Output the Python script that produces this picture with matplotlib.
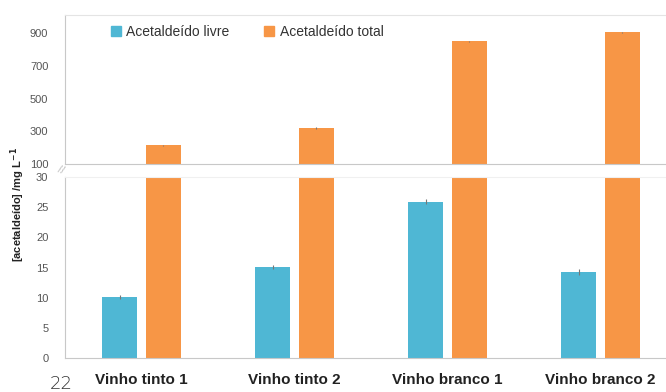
import numpy as np
import matplotlib
matplotlib.use("Agg")
import matplotlib.pyplot as plt
from matplotlib.patches import Patch

# Data
categories = ["Vinho tinto 1", "Vinho tinto 2", "Vinho branco 1", "Vinho branco 2"]
livre = [10.1, 15.1, 25.9, 14.3]
livre_err = [0.3, 0.3, 0.4, 0.5]
total = [215, 320, 850, 905]
total_err = [3, 4, 4, 3]

upper_ticks = [100, 300, 500, 700, 900]
lower_ticks = [0, 5, 10, 15, 20, 25, 30]

c_livre = "#4FB7D4"
c_total = "#F79646"
grid_c = "#C8C8C8"
tick_c = "#555555"

plt.rcParams["font.family"] = ["Liberation Sans", "DejaVu Sans"]

fig = plt.figure(figsize=(6.66, 3.92), dpi=100)
W, H = 666, 392
x0, x1 = 65, 677
ax_top = fig.add_axes([x0 / W, 1 - 164 / H, (x1 - x0) / W, (164 - 15) / H])
ax_bot = fig.add_axes([x0 / W, 1 - 358 / H, (x1 - x0) / W, (358 - 177) / H])

x = np.arange(len(categories))
w = 0.23
off = 0.142

for ax in (ax_top, ax_bot):
    ax.bar(x - off, livre, w, color=c_livre, yerr=livre_err,
           error_kw=dict(ecolor="#777777", elinewidth=0.8, capsize=0))
    ax.bar(x + off, total, w, color=c_total, yerr=total_err,
           error_kw=dict(ecolor="#777777", elinewidth=0.8, capsize=0))
    ax.set_xlim(-0.5, 3.5)
    ax.spines["right"].set_visible(False)
    ax.spines["left"].set_color(grid_c)
    ax.spines["bottom"].set_color(grid_c)
    ax.spines["top"].set_color("#E4E4E4")
    ax.tick_params(axis="y", length=0, labelsize=8, labelcolor=tick_c, pad=12)
    ax.tick_params(axis="x", length=0)

ax_top.set_ylim(100, 1010)
ax_top.set_yticks(upper_ticks)
ax_top.set_xticks([])

ax_bot.set_ylim(0, 30)
ax_bot.set_yticks(lower_ticks)
ax_bot.set_xticks(x)
ax_bot.set_xticklabels(categories, fontsize=11, fontweight="bold", color="#222222")
ax_bot.tick_params(axis="x", pad=11)
ax_bot.spines["top"].set_color("#F0F0F0")

# break mark
fig.text(61 / W, 1 - 170 / H, "//", fontsize=8, color="#BBBBBB",
         ha="center", va="center", rotation=-20)

fig.text(18 / W, 1 - 205 / H, "[acetaldeído] /mg L$^{\\mathbf{-1}}$", rotation=90,
         fontsize=8, fontweight="bold", ha="center", va="center", color="#222222")

handles = [Patch(color=c_livre), Patch(color=c_total)]
ax_top.legend(handles, ["Acetaldeído livre", "Acetaldeído total"], ncol=2,
              loc="upper left", bbox_to_anchor=(0.055, 1.02), frameon=False,
              fontsize=10, handlelength=0.7, handleheight=0.7, handletextpad=0.4,
              columnspacing=2.5, labelcolor="#333333")

# page number
fig.text(61 / W, 1 - 384 / H, "22", fontsize=13, color="#333333",
         family="DejaVu Sans", fontweight="light", ha="center", va="center")

fig.savefig("out.png", dpi=100)
